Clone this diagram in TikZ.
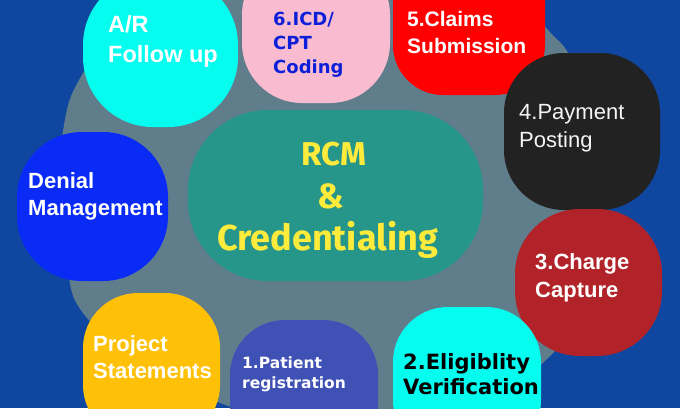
\documentclass[tikz,border=0pt]{standalone}
\usepackage{fontspec}
\setmainfont{Liberation Sans}
\newfontfamily\widefont{DejaVu Sans}
\newfontfamily\firafont{Fira Sans}
\definecolor{bgblue}{HTML}{0F47A0}
\definecolor{bluegrey}{HTML}{607D8B}
\definecolor{teal}{HTML}{26958A}
\definecolor{hlyellow}{HTML}{FFEB3B}
\definecolor{cyanblob}{HTML}{05FDEF}
\definecolor{pinkblob}{HTML}{F8BBD0}
\definecolor{redblob}{HTML}{FF0000}
\definecolor{blackblob}{HTML}{222222}
\definecolor{darkred}{HTML}{B12328}
\definecolor{indigoblob}{HTML}{3F51B5}
\definecolor{amberblob}{HTML}{FFC107}
\definecolor{denialblue}{HTML}{0A2BF5}
\definecolor{icdblue}{HTML}{0D1FD8}
\begin{document}
\begin{tikzpicture}[x=1pt,y=-1pt,
  blob/.style={rectangle, draw=none, inner sep=0pt},
  lbl/.style={anchor=base west, inner sep=0pt, text=white, font=\fontsize{22}{26}\selectfont\bfseries},
  widelbl/.style={anchor=base west, inner sep=0pt, font=\widefont\bfseries},
  centerlbl/.style={anchor=base, inner sep=0pt, text=hlyellow, font=\firafont\bfseries}]
\useasboundingbox (0,0) rectangle (680,408);
\fill[bgblue] (0,0) rectangle (680,408);
\begin{scope}
\clip (0,0) rectangle (680,408);
% grey backdrop
\fill[bluegrey] plot[smooth cycle, tension=0.7] coordinates {
  (61,200) (64,125) (83,73) (130,10) (235,-15) (400,-25) (500,-12) (548,30)
  (576,75) (598,200) (582,300) (548,358) (470,410) (390,428) (300,424)
  (215,401) (140,362) (83,313) (67,265)};
% centre
\node[blob, fill=teal, minimum width=295pt, minimum height=171pt, rounded corners=80pt] (core) at (335.5,195.5) {};
% blobs
\node[blob, fill=cyanblob, minimum width=155pt, minimum height=152pt, rounded corners=70pt] (ar) at (160.5,51) {};
\node[blob, fill=pinkblob, minimum width=148pt, minimum height=148pt, rounded corners=60pt] (icd) at (316,29) {};
\node[blob, fill=redblob, minimum width=152pt, minimum height=150pt, rounded corners=50pt] (claims) at (469,20) {};
\node[blob, fill=blackblob, minimum width=156pt, minimum height=157pt, rounded corners=60pt] (pay) at (582,131.5) {};
\node[blob, fill=darkred, minimum width=147pt, minimum height=147pt, rounded corners=65pt] (charge) at (588.5,282.5) {};
\node[blob, fill=cyanblob, minimum width=148pt, minimum height=148pt, rounded corners=55pt] (elig) at (467,381) {};
\node[blob, fill=indigoblob, minimum width=148pt, minimum height=148pt, rounded corners=55pt] (pat) at (304,394) {};
\node[blob, fill=amberblob, minimum width=137pt, minimum height=147pt, rounded corners=55pt] (proj) at (151.5,366.5) {};
\node[blob, fill=denialblue, minimum width=151pt, minimum height=149pt, rounded corners=65pt] (den) at (92.5,206.5) {};
\end{scope}
% labels
\node[lbl, font=\fontsize{23.5}{27}\selectfont\bfseries] (ar1) at (108,32) {A/R};
\node[lbl, font=\fontsize{23.5}{27}\selectfont\bfseries] (ar2) at (108,62) {Follow up};
\node[widelbl, text=icdblue, font=\widefont\bfseries\fontsize{18}{20}\selectfont] (icd1) at (273,25) {6.ICD/};
\node[widelbl, text=icdblue, font=\widefont\bfseries\fontsize{18}{20}\selectfont] (icd2) at (273,49) {CPT};
\node[widelbl, text=icdblue, font=\widefont\bfseries\fontsize{18}{20}\selectfont] (icd3) at (273,73) {Coding};
\node[lbl, font=\fontsize{21}{25}\selectfont\bfseries] (cl1) at (407,26) {5.Claims};
\node[lbl, font=\fontsize{21}{25}\selectfont\bfseries] (cl2) at (407,53) {Submission};
\node[lbl, text=white!96!black, font=\fontsize{22}{26}\selectfont] (pay1) at (519,119) {4.Payment};
\node[lbl, text=white!96!black, font=\fontsize{22}{26}\selectfont] (pay2) at (519,147) {Posting};
\node[lbl] (ch1) at (535,269) {3.Charge};
\node[lbl] (ch2) at (535,297) {Capture};
\node[widelbl, text=black, font=\widefont\bfseries\fontsize{21}{23}\selectfont] (el1) at (403,369) {2.Eligiblity};
\node[widelbl, text=black, font=\widefont\bfseries\fontsize{21}{23}\selectfont] (el2) at (403,394) {Verification};
\node[widelbl, text=white, font=\widefont\bfseries\fontsize{15.5}{18}\selectfont] (pt1) at (242,368) {1.Patient};
\node[widelbl, text=white, font=\widefont\bfseries\fontsize{15.5}{18}\selectfont] (pt2) at (242,388) {registration};
\node[lbl] (pr1) at (93,351) {Project};
\node[lbl] (pr2) at (93,378) {Statements};
\node[lbl] (dn1) at (28,188) {Denial};
\node[lbl] (dn2) at (28,215) {Management};
\node[centerlbl, font=\firafont\bfseries\fontsize{33}{36}\selectfont] (rcm) at (334,165) {RCM};
\node[centerlbl, font=\firafont\bfseries\fontsize{35}{38}\selectfont] (amp) at (331,208) {\&};
\node[centerlbl, anchor=base west, font=\firafont\bfseries\fontsize{36}{40}\selectfont] (cred) at (217,250) {Credentialing};
\end{tikzpicture}
\end{document}
